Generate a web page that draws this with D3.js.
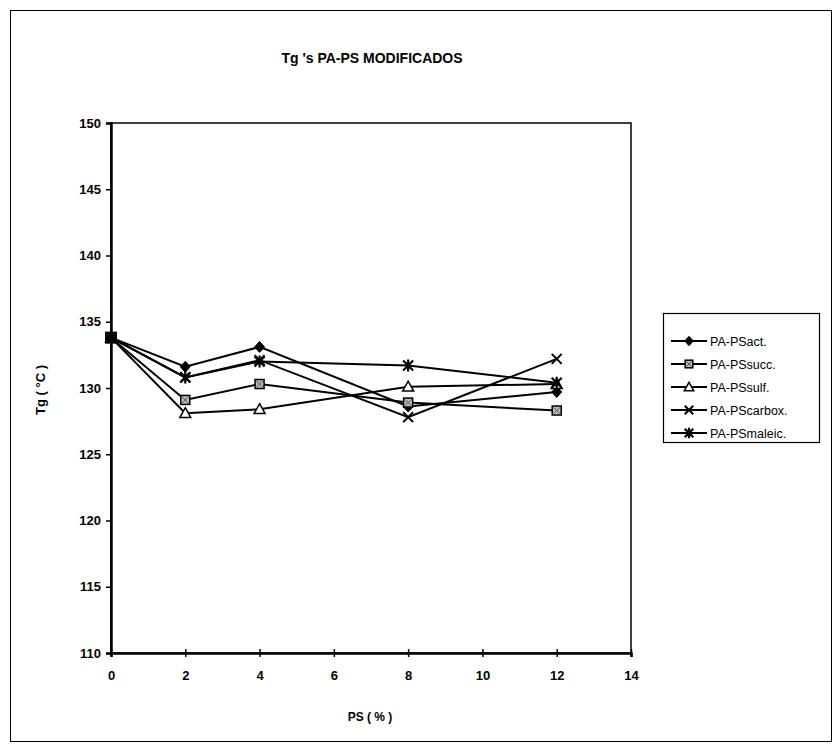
<!DOCTYPE html>
<html>
<head>
<meta charset="utf-8">
<script src="https://cdn.jsdelivr.net/npm/d3@7"></script>
<style>
  html, body { margin: 0; padding: 0; background: #fff; }
  svg { display: block; font-family: "Liberation Sans", Arial, sans-serif; }
</style>
</head>
<body>
<svg id="chart" width="837" height="756"></svg>
<script>
// ---- data ----
const psPercent = [0, 2, 4, 8, 12];
const seriesNames = ["PA-PSact.", "PA-PSsucc.", "PA-PSsulf.", "PA-PScarbox.", "PA-PSmaleic."];
const actValues    = [133.8, 131.6, 133.1, 128.6, 129.7];
const succValues   = [133.8, 129.1, 130.3, 128.9, 128.3];
const sulfValues   = [133.8, 128.1, 128.4, 130.1, 130.3];
const carboxValues = [133.8, 130.8, 132.1, 127.8, 132.2];
const maleicValues = [133.8, 130.8, 132.0, 131.7, 130.4];
const xTicks = [0, 2, 4, 6, 8, 10, 12, 14];
const yTicks = [110, 115, 120, 125, 130, 135, 140, 145, 150];
const chartTitle = "Tg 's PA-PS MODIFICADOS";
const xTitle = "PS ( % )";
const yTitle = "Tg  ( °C )";

const seriesValues = [actValues, succValues, sulfValues, carboxValues, maleicValues];
const markerTypes = ["diamond", "square", "triangle", "x", "asterisk"];

// ---- layout ----
const svg = d3.select("#chart");
const plot = { left: 111, top: 123, right: 631, bottom: 653 };

svg.append("rect").attr("x", 10.5).attr("y", 10.5).attr("width", 821).attr("height", 731)
  .attr("fill", "#fff").attr("stroke", "#000").attr("stroke-width", 1);

const x = d3.scaleLinear().domain([0, 14]).range([plot.left, plot.right]);
const y = d3.scaleLinear().domain([110, 150]).range([plot.bottom, plot.top]);

// plot area frame
svg.append("rect").attr("x", plot.left).attr("y", plot.top)
  .attr("width", plot.right - plot.left).attr("height", plot.bottom - plot.top)
  .attr("fill", "none").attr("stroke", "#000").attr("stroke-width", 1.5);

// axes
const xAxis = svg.append("g").attr("transform", `translate(0,${plot.bottom})`)
  .call(d3.axisBottom(x).tickValues(xTicks).tickSize(4).tickPadding(14).tickFormat(d3.format("d")));
xAxis.selectAll(".tick line").attr("y1", -4).attr("y2", 4).attr("stroke-width", 1.5);
const yAxis = svg.append("g").attr("transform", `translate(${plot.left},0)`)
  .call(d3.axisLeft(y).tickValues(yTicks).tickSize(5).tickPadding(5).tickFormat(d3.format("d")));
yAxis.selectAll(".tick line").attr("stroke-width", 1.5);
[xAxis, yAxis].forEach(a => {
  a.select(".domain").attr("stroke-width", 2.5);
  a.selectAll("text").attr("font-size", 13).attr("font-weight", "bold")
    .attr("font-family", "'Liberation Sans', Arial, sans-serif").attr("fill", "#000");
});

// titles
svg.append("text").attr("x", 372).attr("y", 63).attr("text-anchor", "middle")
  .attr("font-size", 14).attr("font-weight", "bold").text(chartTitle);
svg.append("text").attr("x", 370).attr("y", 721).attr("text-anchor", "middle")
  .attr("font-size", 12).attr("font-weight", "bold").text(xTitle);
svg.append("text").attr("transform", `translate(45,${(plot.top + plot.bottom) / 2 + 2}) rotate(-90)`)
  .attr("text-anchor", "middle").attr("font-size", 13).attr("font-weight", "bold").text(yTitle);

// markers
function drawMarker(g, type, cx, cy, s) {
  const k = s || 1;
  if (type === "diamond") {
    g.append("path").attr("d", `M${cx},${cy - 5.5*k}L${cx + 5*k},${cy}L${cx},${cy + 5.5*k}L${cx - 5*k},${cy}Z`)
      .attr("fill", "#000").attr("stroke", "#000");
  } else if (type === "square") {
    const h = 4.5 * k;
    g.append("rect").attr("x", cx - h).attr("y", cy - h).attr("width", 2*h).attr("height", 2*h)
      .attr("fill", "#bbb").attr("stroke", "#000").attr("stroke-width", 1.5);
    g.append("path").attr("d", `M${cx - h + 1.5},${cy - h + 1.5}L${cx + h - 1.5},${cy + h - 1.5}M${cx + h - 1.5},${cy - h + 1.5}L${cx - h + 1.5},${cy + h - 1.5}`)
      .attr("stroke", "#555").attr("stroke-width", 1);
  } else if (type === "triangle") {
    const h = 5.5 * k;
    g.append("path").attr("d", `M${cx},${cy - h}L${cx + h},${cy + h*0.8}L${cx - h},${cy + h*0.8}Z`)
      .attr("fill", "#fff").attr("stroke", "#000").attr("stroke-width", 1.5);
  } else if (type === "x") {
    const h = 5 * k;
    g.append("path").attr("d", `M${cx - h},${cy - h}L${cx + h},${cy + h}M${cx + h},${cy - h}L${cx - h},${cy + h}`)
      .attr("stroke", "#000").attr("stroke-width", 2);
  } else if (type === "asterisk") {
    const h = 5 * k;
    g.append("path").attr("d", `M${cx - h},${cy - h}L${cx + h},${cy + h}M${cx + h},${cy - h}L${cx - h},${cy + h}M${cx},${cy - h - 1}L${cx},${cy + h + 1}`)
      .attr("stroke", "#000").attr("stroke-width", 2.2);
  }
}

// series
const line = d3.line().x((d, i) => x(psPercent[i])).y(d => y(d));
const seriesG = svg.append("g");
seriesValues.forEach((vals, si) => {
  seriesG.append("path").datum(vals).attr("d", line)
    .attr("fill", "none").attr("stroke", "#000").attr("stroke-width", 2);
});
seriesValues.forEach((vals, si) => {
  const g = seriesG.append("g");
  vals.forEach((v, i) => drawMarker(g, markerTypes[si], x(psPercent[i]), y(v)));
});
// first point drawn as a filled square (overlapping markers)
seriesG.append("rect").attr("x", x(psPercent[0]) - 6).attr("y", y(actValues[0]) - 6)
  .attr("width", 12).attr("height", 12).attr("fill", "#000");

// legend
const lg = svg.append("g");
const legendBox = { x: 663, y: 313, w: 156, h: 129 };
lg.append("rect").attr("x", legendBox.x + 0.5).attr("y", legendBox.y + 0.5)
  .attr("width", legendBox.w).attr("height", legendBox.h)
  .attr("fill", "#fff").attr("stroke", "#000").attr("stroke-width", 1.2);
seriesNames.forEach((name, i) => {
  const ly = legendBox.y + 28 + i * 23;
  lg.append("line").attr("x1", 671).attr("x2", 707).attr("y1", ly).attr("y2", ly)
    .attr("stroke", "#000").attr("stroke-width", 2);
  drawMarker(lg, markerTypes[i], 689, ly, 0.85);
  lg.append("text").attr("x", 710).attr("y", ly + 4.5).attr("font-size", 12.5).text(name);
});
</script>
</body>
</html>
